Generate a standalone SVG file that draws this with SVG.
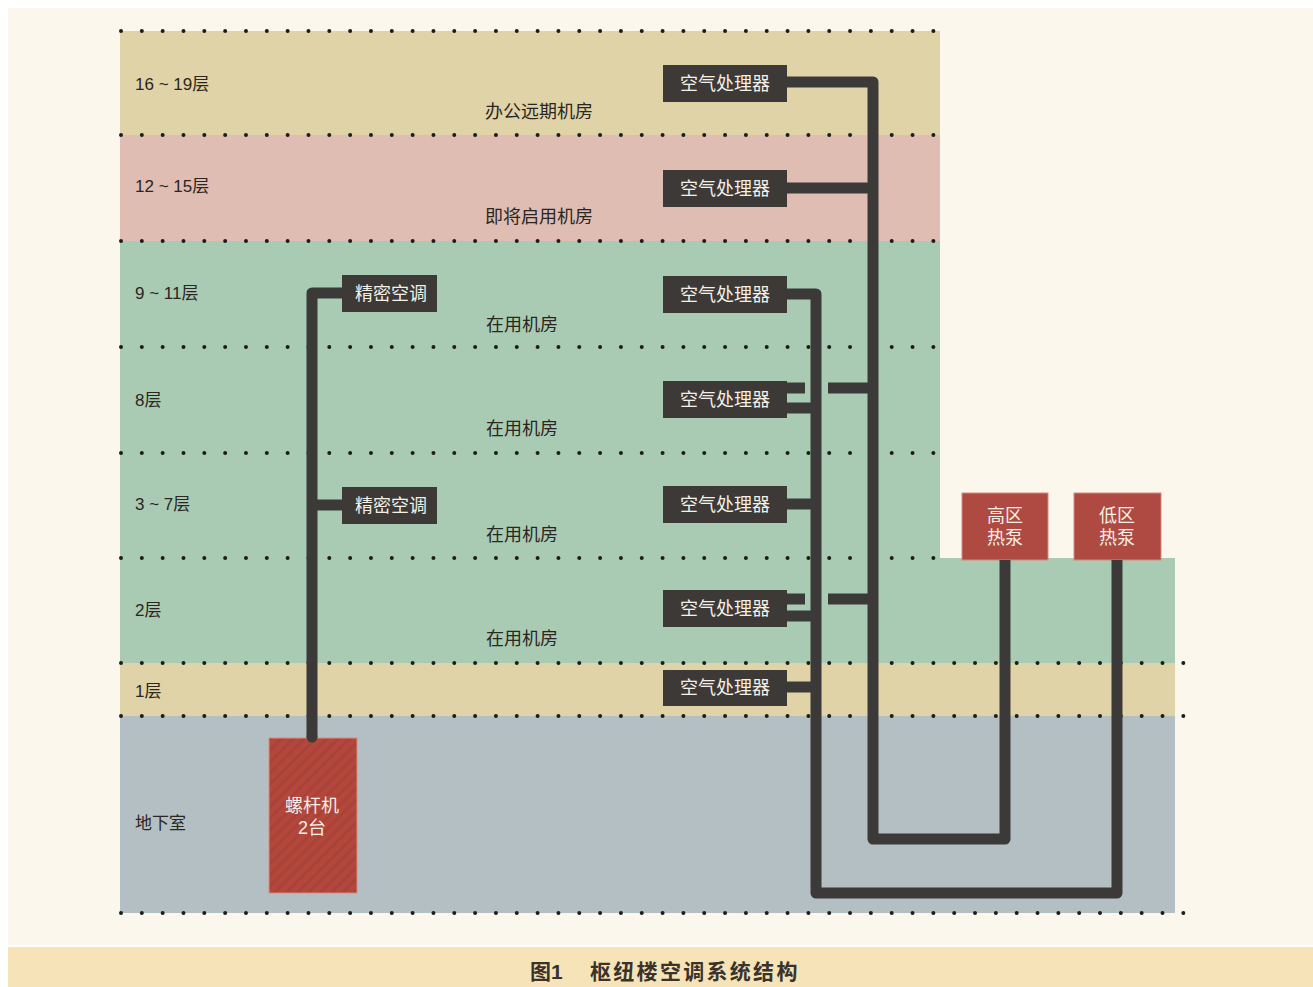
<svg xmlns="http://www.w3.org/2000/svg" width="1313" height="987" viewBox="0 0 1313 987">
<defs>
<style>
.lbl{font-family:"Liberation Sans","Noto Sans CJK SC",sans-serif;font-size:17px;fill:#2b2622}
.room{font-family:"Liberation Sans","Noto Sans CJK SC",sans-serif;font-size:18px;fill:#2b2622}
.box{fill:#3c3937}
.boxt{font-family:"Liberation Sans","Noto Sans CJK SC",sans-serif;font-size:18px;fill:#f4f0e6;text-anchor:middle}
.hp{fill:#ae4a42;stroke:#d58a7c;stroke-width:1}
.dots{stroke:#1e1c1a;stroke-width:4;stroke-linecap:round;stroke-dasharray:0 20.83;fill:none}
.pipe{fill:none;stroke:#3c3a38;stroke-width:11;stroke-linejoin:round;stroke-linecap:butt}
.cap2{font-family:"Liberation Sans","Noto Sans CJK SC",sans-serif;font-size:21px;font-weight:bold;fill:#3a332c}
</style>
<pattern id="hatch" patternUnits="userSpaceOnUse" width="8" height="8" patternTransform="rotate(45)">
<rect width="8" height="8" fill="#b3473c"/>
<rect width="3" height="8" fill="#a9433a"/>
</pattern>
</defs>
<rect width="1313" height="987" fill="#ffffff"/>
<rect x="8" y="8" width="1305" height="937" fill="#fcf7ec"/>
<rect x="8" y="947" width="1305" height="40" fill="#f6e3b8"/>
<g id="bands">
<rect x="120" y="31" width="820" height="104" fill="#e0d3a7"/>
<rect x="120" y="135" width="820" height="106" fill="#dfbdb2"/>
<rect x="120" y="241" width="820" height="317" fill="#a9cbb3"/>
<rect x="120" y="558" width="1055" height="105" fill="#a9cbb3"/>
<rect x="120" y="663" width="1055" height="53" fill="#e0d3a7"/>
<rect x="120" y="716" width="1055" height="197" fill="#b3bfc3"/>
</g>
<g id="floor-lines">
<line class="dots" x1="121" y1="31" x2="941" y2="31"/>
<line class="dots" x1="121" y1="135" x2="941" y2="135"/>
<line class="dots" x1="121" y1="241" x2="941" y2="241"/>
<line class="dots" x1="121" y1="347" x2="941" y2="347"/>
<line class="dots" x1="121" y1="453" x2="941" y2="453"/>
<line class="dots" x1="121" y1="558" x2="941" y2="558"/>
<line class="dots" x1="121" y1="663" x2="1184" y2="663"/>
<line class="dots" x1="121" y1="716" x2="1184" y2="716"/>
<line class="dots" x1="121" y1="913" x2="1184" y2="913"/>
</g>
<g id="floor-labels">
<text class="lbl" x="135" y="90">16 ~ 19层</text>
<text class="lbl" x="135" y="192">12 ~ 15层</text>
<text class="lbl" x="135" y="299">9 ~ 11层</text>
<text class="lbl" x="135" y="406">8层</text>
<text class="lbl" x="135" y="510">3 ~ 7层</text>
<text class="lbl" x="135" y="616">2层</text>
<text class="lbl" x="135" y="697">1层</text>
<text class="lbl" x="135" y="829">地下室</text>
</g>
<g id="room-labels">
<text class="room" x="485" y="118">办公远期机房</text>
<text class="room" x="485" y="223">即将启用机房</text>
<text class="room" x="486" y="331">在用机房</text>
<text class="room" x="486" y="435">在用机房</text>
<text class="room" x="486" y="541">在用机房</text>
<text class="room" x="486" y="645">在用机房</text>
</g>
<g id="screw-chiller">
<rect x="269" y="738" width="88" height="155" fill="url(#hatch)" stroke="#d98d7f" stroke-width="1"/>
<text class="boxt" x="312" y="812">螺杆机</text>
<text class="boxt" x="312" y="834">2台</text>
</g>
<g id="pac-9-11">
<rect class="box" x="342" y="275" width="95" height="37"/>
<text class="boxt" x="391" y="300">精密空调</text>
</g>
<g id="pac-3-7">
<rect class="box" x="342" y="487" width="95" height="37"/>
<text class="boxt" x="391" y="512">精密空调</text>
</g>
<g id="ahu-16-19">
<rect class="box" x="663" y="65" width="124" height="37"/>
<text class="boxt" x="725" y="90">空气处理器</text>
</g>
<g id="ahu-12-15">
<rect class="box" x="663" y="170" width="124" height="37"/>
<text class="boxt" x="725" y="195">空气处理器</text>
</g>
<g id="ahu-9-11">
<rect class="box" x="663" y="276" width="124" height="37"/>
<text class="boxt" x="725" y="301">空气处理器</text>
</g>
<g id="ahu-8">
<rect class="box" x="663" y="381" width="124" height="37"/>
<text class="boxt" x="725" y="406">空气处理器</text>
</g>
<g id="ahu-3-7">
<rect class="box" x="663" y="486" width="124" height="37"/>
<text class="boxt" x="725" y="511">空气处理器</text>
</g>
<g id="ahu-2">
<rect class="box" x="663" y="590" width="124" height="37"/>
<text class="boxt" x="725" y="615">空气处理器</text>
</g>
<g id="ahu-1">
<rect class="box" x="663" y="670" width="124" height="36"/>
<text class="boxt" x="725" y="694">空气处理器</text>
</g>
<g id="hp-high">
<rect class="hp" x="962" y="493" width="86" height="67"/>
<text class="boxt" x="1005" y="522">高区</text>
<text class="boxt" x="1005" y="544">热泵</text>
</g>
<g id="hp-low">
<rect class="hp" x="1074" y="493" width="87" height="67"/>
<text class="boxt" x="1117" y="522">低区</text>
<text class="boxt" x="1117" y="544">热泵</text>
</g>
<g id="connectors">
<path class="pipe" d="M342,293 H312 V737"/>
<circle cx="312" cy="737" r="5.5" fill="#3c3a38"/>
<path class="pipe" d="M342,505 H312"/>
<path class="pipe" d="M786,82 H873 V839 H1005 V560"/>
<path class="pipe" d="M786,188 H873"/>
<path class="pipe" d="M828,388 H873"/>
<path class="pipe" d="M828,599 H873"/>
<path class="pipe" d="M786,294 H816 V893 H1117 V560"/>
<path class="pipe" d="M786,388 H805"/>
<path class="pipe" d="M786,408 H816"/>
<path class="pipe" d="M786,504 H816"/>
<path class="pipe" d="M786,599 H805"/>
<path class="pipe" d="M786,616 H816"/>
<path class="pipe" d="M786,687 H816"/>
</g>
<g id="caption">
<text class="cap2" x="530" y="979">图1</text>
<text class="cap2" x="590" y="979" letter-spacing="2.3">枢纽楼空调系统结构</text>
</g>
</svg>
